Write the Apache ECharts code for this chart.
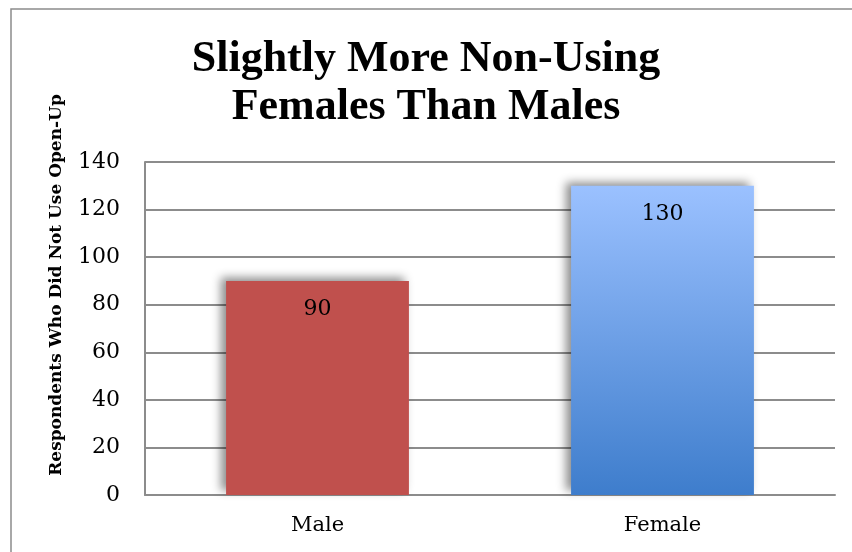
<!DOCTYPE html>
<html>
<head>
<meta charset="utf-8">
<script src="https://cdn.jsdelivr.net/npm/echarts@6/dist/echarts.min.js"></script>
<style>
html, body { margin: 0; padding: 0; background: #fff; }
#chart { width: 852px; height: 552px; }
</style>
</head>
<body>
<div id="chart"></div>
<script>
const titleLines = ['Slightly More Non-Using', 'Females Than Males'];
const yAxisTitle = 'Respondents Who Did Not Use Open-Up';
const categories = ['Male', 'Female'];
const respondents = [90, 130];
const yTicks = { min: 0, max: 140, interval: 20 };

const serif = '"Liberation Serif", "DejaVu Serif", serif';
const wideSerif = '"DejaVu Serif", "Liberation Serif", serif';

const elem = document.getElementById('chart');
const myChart = echarts.init(elem, null, { renderer: 'canvas' });

const barColors = [
    '#C0504D',
    new echarts.graphic.LinearGradient(0, 0, 0, 1, [
        { offset: 0, color: '#9BC1FF' },
        { offset: 1, color: '#3E7DCC' }
    ])
];

myChart.setOption({
    backgroundColor: '#fff',
    animation: false,
    title: {
        text: titleLines.join('\n'),
        left: 'center',
        top: 31,
        textStyle: {
            fontFamily: serif,
            fontWeight: 'bold',
            fontSize: 44,
            lineHeight: 48,
            color: '#000'
        }
    },
    graphic: [
        {
            type: 'rect',
            shape: { x: 11, y: 9, width: 900, height: 600 },
            style: { fill: 'none', stroke: '#8c8c8c', lineWidth: 1.5 },
            silent: true
        },
        {
            type: 'text',
            x: 57,
            y: 285,
            rotation: Math.PI / 2,
            style: {
                text: yAxisTitle,
                fontFamily: wideSerif,
                fontWeight: 'bold',
                fontSize: 17,
                fill: '#000',
                align: 'center',
                verticalAlign: 'middle'
            }
        }
    ],
    grid: { left: 145, right: 17, top: 162, bottom: 57 },
    xAxis: {
        type: 'category',
        data: categories,
        axisLine: { lineStyle: { color: '#8c8c8c', width: 2 } },
        axisTick: { show: false },
        axisLabel: {
            fontFamily: wideSerif,
            fontSize: 21,
            color: '#000',
            margin: 20
        }
    },
    yAxis: {
        type: 'value',
        min: yTicks.min,
        max: yTicks.max,
        interval: yTicks.interval,
        axisLine: { show: true, lineStyle: { color: '#8c8c8c', width: 2 } },
        axisTick: { show: false },
        splitLine: { lineStyle: { color: '#8c8c8c', width: 2 } },
        axisLabel: {
            fontFamily: wideSerif,
            fontSize: 22,
            color: '#000',
            margin: 25
        }
    },
    series: [{
        type: 'bar',
        barWidth: '53%',
        data: respondents.map((v, i) => ({
            value: v,
            itemStyle: { color: barColors[i] }
        })),
        itemStyle: {
            shadowColor: 'rgba(0,0,0,0.45)',
            shadowBlur: 9,
            shadowOffsetX: -5,
            shadowOffsetY: -4
        },
        label: {
            show: true,
            position: 'insideTop',
            distance: 17,
            fontFamily: wideSerif,
            fontSize: 22,
            color: '#000'
        }
    }]
});
</script>
</body>
</html>
